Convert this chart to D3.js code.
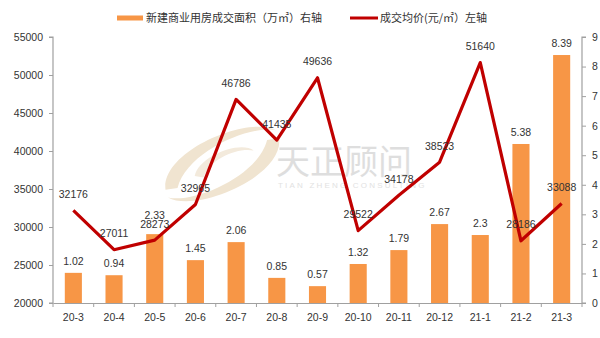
<!DOCTYPE html>
<html>
<head>
<meta charset="utf-8">
<script src="https://cdn.jsdelivr.net/npm/d3@7/dist/d3.min.js"></script>
<style>
  html, body { margin: 0; padding: 0; background: #fff; }
  svg { display: block; }
</style>
</head>
<body>
<svg id="chart" width="600" height="338"></svg>
<script>
// Monthly data: new commercial housing transactions
const months = ["20-3", "20-4", "20-5", "20-6", "20-7", "20-8", "20-9", "20-10", "20-11", "20-12", "21-1", "21-2", "21-3"];
const area = [1.02, 0.94, 2.33, 1.45, 2.06, 0.85, 0.57, 1.32, 1.79, 2.67, 2.3, 5.38, 8.39];          // 万㎡, right axis
const price = [32176, 27011, 28273, 32965, 46786, 41435, 49636, 29522, 34178, 38523, 51640, 28186, 33088]; // 元/㎡, left axis
const leftTicks = [20000, 25000, 30000, 35000, 40000, 45000, 50000, 55000];
const rightTicks = [0, 1, 2, 3, 4, 5, 6, 7, 8, 9];
const legendLabels = ["新建商业用房成交面积（万㎡）右轴", "成交均价(元/㎡）左轴"];

const svg = d3.select("#chart");
const m = { left: 53, right: 582, top: 37, bottom: 303 };
const numFont = "'Liberation Sans', Arial, sans-serif";
const cjkFont = "'Noto Sans CJK SC', 'Noto Sans', sans-serif";
const axisColor = "#a0a0a0";
const textColor = "#333";
const barColor = "#f79646";
const lineColor = "#c00000";

const x = d3.scaleBand().domain(months).range([m.left, m.right]);
const yL = d3.scaleLinear().domain([20000, 55000]).range([m.bottom, m.top]);
const yR = d3.scaleLinear().domain([0, 9]).range([m.bottom, m.top]);
const barW = x.bandwidth() * 0.42;
const cx = i => x(months[i]) + x.bandwidth() / 2;

// Watermark logo
const wm = svg.append("g").attr("class", "watermark");
const swoosh = wm.append("g").attr("transform", "translate(222,163) rotate(-18)");
swoosh.append("path")
  .attr("d", "M-62,8 C-55,-30 40,-38 62,-14 C40,-28 -30,-22 -50,10 Z")
  .attr("fill", "#f0e4d0");
swoosh.append("path")
  .attr("d", "M62,-6 C55,32 -40,40 -62,16 C-40,30 30,24 50,-8 Z")
  .attr("fill", "#f0e4d0");
swoosh.append("path")
  .attr("d", "M-30,4 C-20,-14 25,-16 34,-2 C20,-10 -10,-8 -22,8 Z")
  .attr("fill", "#f3eadc");
wm.append("text")
  .attr("x", 276).attr("y", 174)
  .attr("font-family", cjkFont).attr("font-size", 34)
  .attr("fill", "#dedede")
  .text("天正顾问");
wm.append("text")
  .attr("x", 278).attr("y", 188)
  .attr("font-family", numFont).attr("font-size", 8)
  .attr("letter-spacing", 2.2)
  .attr("fill", "#e2e2e2")
  .text("TIAN ZHENG CONSULTING");

// Bars (right axis)
svg.append("g").selectAll("rect")
  .data(area)
  .join("rect")
  .attr("x", (d, i) => x(months[i]) + (x.bandwidth() - barW) / 2)
  .attr("y", d => yR(d))
  .attr("width", barW)
  .attr("height", d => yR(0) - yR(d))
  .attr("fill", barColor);

// Axes
const gL = svg.append("g").attr("transform", `translate(${m.left},0)`)
  .call(d3.axisLeft(yL).tickValues(leftTicks).tickSize(4).tickPadding(6).tickFormat(d3.format("d")));
const gR = svg.append("g").attr("transform", `translate(${m.right},0)`)
  .call(d3.axisRight(yR).tickValues(rightTicks).tickSize(4).tickPadding(6).tickFormat(d3.format("d")));
const gX = svg.append("g").attr("transform", `translate(0,${m.bottom})`)
  .call(d3.axisBottom(x).tickSize(0).tickPadding(11));
// category separators on the x axis
gX.selectAll(".sep")
  .data(d3.range(months.length + 1))
  .join("line")
  .attr("class", "sep")
  .attr("x1", i => m.left + i * x.step())
  .attr("x2", i => m.left + i * x.step())
  .attr("y1", 0).attr("y2", 4)
  .attr("stroke", axisColor);

[gL, gR, gX].forEach(g => {
  g.select(".domain").attr("stroke", axisColor).attr("stroke-width", 1.2);
  g.selectAll(".tick line").attr("stroke", axisColor);
  g.selectAll("text").attr("font-family", numFont).attr("font-size", 10.5).attr("fill", textColor);
});
gL.select(".domain").attr("d", `M-4,${m.top}H0V${m.bottom}H-4`);
gR.select(".domain").attr("d", `M4,${m.top}H0V${m.bottom}H4`);

// Price line (left axis)
const line = d3.line()
  .x((d, i) => cx(i))
  .y(d => yL(d));
svg.append("path")
  .datum(price)
  .attr("d", line)
  .attr("fill", "none")
  .attr("stroke", lineColor)
  .attr("stroke-width", 3.2)
  .attr("stroke-linejoin", "round");

// Data labels: price labels sit above the points; area labels above the bars,
// lifted just above a price label when the two would collide.
const priceLabelY = price.map(d => yL(d) - 12.5);
const areaLabelY = area.map((d, i) => {
  let yb = yR(d) - 8;
  if (Math.abs(yb - priceLabelY[i]) < 9) yb = Math.min(yb, priceLabelY[i] - 9);
  return yb;
});

svg.append("g").selectAll("text")
  .data(area)
  .join("text")
  .attr("x", (d, i) => cx(i))
  .attr("y", (d, i) => areaLabelY[i])
  .attr("text-anchor", "middle")
  .attr("font-family", numFont).attr("font-size", 10.5).attr("fill", textColor)
  .text(d => d);

svg.append("g").selectAll("text")
  .data(price)
  .join("text")
  .attr("x", (d, i) => cx(i))
  .attr("y", (d, i) => priceLabelY[i])
  .attr("text-anchor", "middle")
  .attr("font-family", numFont).attr("font-size", 10.5).attr("fill", textColor)
  .text(d => d);

// Legend
const lg = svg.append("g").attr("font-family", cjkFont).attr("font-size", 11).attr("fill", textColor);
lg.append("rect").attr("x", 117).attr("y", 15.5).attr("width", 26).attr("height", 5).attr("fill", barColor);
lg.append("text").attr("x", 146).attr("y", 22).text(legendLabels[0]);
lg.append("line").attr("x1", 350).attr("x2", 378).attr("y1", 18).attr("y2", 18)
  .attr("stroke", lineColor).attr("stroke-width", 3);
lg.append("text").attr("x", 380).attr("y", 22).text(legendLabels[1]);
</script>
</body>
</html>
